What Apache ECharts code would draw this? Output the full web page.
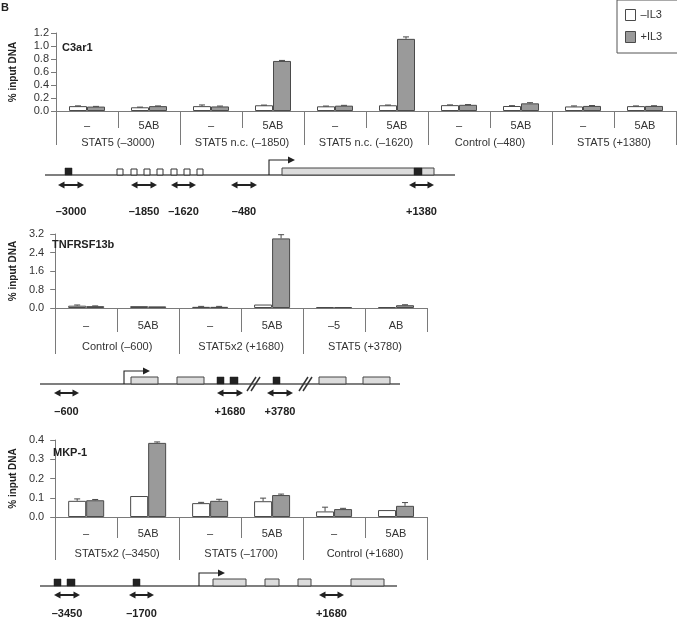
<!DOCTYPE html>
<html>
<head>
<meta charset="utf-8">
<script src="https://cdn.jsdelivr.net/npm/echarts@6/dist/echarts.min.js"></script>
<style>html,body{margin:0;padding:0;background:#fff}#c{width:677px;height:619px}</style>
</head>
<body>
<div id="c"></div>
<script>
// ---------- Panel 1: C3ar1 ----------
const c3Sub = ['–','5AB','–','5AB','–','5AB','–','5AB','–','5AB'];
const c3Groups = ['STAT5 (–3000)','STAT5 n.c. (–1850)','STAT5 n.c. (–1620)','Control (–480)','STAT5 (+1380)'];
const c3Minus = [0.075,0.057,0.075,0.088,0.072,0.088,0.09,0.077,0.07,0.075];
const c3MinusErr = [0.004,0.003,0.018,0.003,0.004,0.004,0.004,0.005,0.008,0.003];
const c3Plus = [0.068,0.075,0.07,0.77,0.082,1.11,0.095,0.118,0.078,0.078];
const c3PlusErr = [0.003,0.003,0.006,0.008,0.005,0.03,0.004,0.01,0.006,0.003];
const c3Ticks = [0,0.2,0.4,0.6,0.8,1.0,1.2];

// ---------- Panel 2: TNFRSF13b ----------
const tnSub = ['–','5AB','–','5AB','–5','AB'];
const tnGroups = ['Control (–600)','STAT5x2 (+1680)','STAT5 (+3780)'];
const tnMinus = [0.1,0.08,0.05,0.15,0.04,0.04];
const tnMinusErr = [0.03,0.0,0.02,0.0,0.0,0.0];
const tnPlus = [0.08,0.07,0.05,3.01,0.04,0.12];
const tnPlusErr = [0.01,0.0,0.02,0.16,0.0,0.02];
const tnTicks = [0,0.8,1.6,2.4,3.2];

// ---------- Panel 3: MKP-1 ----------
const mkSub = ['–','5AB','–','5AB','–','5AB'];
const mkGroups = ['STAT5x2 (–3450)','STAT5 (–1700)','Control (+1680)'];
const mkMinus = [0.084,0.109,0.072,0.082,0.029,0.036];
const mkMinusErr = [0.01,0.0,0.004,0.016,0.022,0.0];
const mkPlus = [0.087,0.385,0.084,0.114,0.041,0.058];
const mkPlusErr = [0.004,0.005,0.008,0.005,0.004,0.017];
const mkTicks = [0,0.1,0.2,0.3,0.4];

// ---------- Gene maps (schematic units) ----------
const c3Line = [0,410];
const c3Exons = [[237,389]];
const c3Sites = [[20,27],[369,377]];
const c3NcSites = [[72,78],[86,92],[99,105],[112,118],[126,132],[139,145],[152,158]];
const c3Tss = [224,250];
const c3Breaks = [];
const c3Amplicons = [[13,39],[86,112],[126,151],[186,212],[364,389]];
const c3AmpliconLabels = ['–3000','–1850','–1620','–480','+1380'];

const tnLine = [0,360];
const tnExons = [[91,118],[137,164],[279,306],[323,350]];
const tnSites = [[177,184],[190,198],[233,240]];
const tnNcSites = [];
const tnTss = [84,110];
const tnBreaks = [213,265];
const tnAmplicons = [[14,39],[177,203],[227,253]];
const tnAmpliconLabels = ['–600','+1680','+3780'];

const mkLine = [0,357];
const mkExons = [[173,206],[225,239],[258,271],[311,344]];
const mkSites = [[14,21],[27,35],[93,100]];
const mkNcSites = [];
const mkTss = [159,185];
const mkBreaks = [];
const mkAmplicons = [[14,40],[89,114],[279,304]];
const mkAmpliconLabels = ['–3450','–1700','+1680'];

const FONT = "'Liberation Sans', Arial, Helvetica, sans-serif";
const AX = '#7a7a7a';
const TXT = '#333';
const WHITE_STYLE = {color:'#ffffff', borderColor:'#4a4a4a', borderWidth:1};
const GRAY_STYLE = {color:'#9a9a9a', borderColor:'#4a4a4a', borderWidth:1};
const BARW = 18;

const chart = echarts.init(document.getElementById('c'), null, {renderer:'canvas'});

function errSeries(xi, yi, vals, errs, offset) {
  return {
    type:'custom', xAxisIndex:xi, yAxisIndex:yi, silent:true, z:5,
    data: vals.map((v,i)=>[i, v, errs[i]]),
    renderItem(params, api) {
      const i = api.value(0), v = api.value(1), e = api.value(2);
      if (!e) return null;
      const p0 = api.coord([i, v]);
      const p1 = api.coord([i, v + e]);
      const x = p0[0] + offset;
      return {type:'group', children:[
        {type:'line', shape:{x1:x, y1:p0[1], x2:x, y2:p1[1]}, style:{stroke:'#4a4a4a', lineWidth:1}},
        {type:'line', shape:{x1:x-3, y1:p1[1], x2:x+3, y2:p1[1]}, style:{stroke:'#4a4a4a', lineWidth:1}}
      ]};
    }
  };
}

function barPanel(idx, sub, minus, minusErr, plus, plusErr) {
  const xi = idx*2, yi = idx;
  return [
    {name:'–IL3', type:'bar', xAxisIndex:xi, yAxisIndex:yi, data:minus, barWidth:BARW, barGap:'0%', itemStyle:WHITE_STYLE, silent:true},
    {name:'+IL3', type:'bar', xAxisIndex:xi, yAxisIndex:yi, data:plus, barWidth:BARW, barGap:'0%', itemStyle:GRAY_STYLE, silent:true},
    errSeries(xi, yi, minus, minusErr, -BARW/2),
    errSeries(xi, yi, plus, plusErr, BARW/2)
  ];
}

function buildItems(line, exons, sites, nc, tss, breaks, amps, labels) {
  const items = [{k:'line', a:line[0], b:line[1]}];
  exons.forEach(e=>items.push({k:'exon', a:e[0], b:e[1]}));
  sites.forEach(e=>items.push({k:'site', a:e[0], b:e[1]}));
  nc.forEach(e=>items.push({k:'nc', a:e[0], b:e[1]}));
  items.push({k:'tss', a:tss[0], b:tss[1]});
  breaks.forEach(b=>items.push({k:'break', a:b, b:b}));
  amps.forEach((e,i)=>{
    items.push({k:'amp', a:e[0], b:e[1]});
    items.push({k:'label', a:(e[0]+e[1])/2, b:(e[0]+e[1])/2, t:labels[i]});
  });
  return items;
}

function mapSeries(idx, items, tssH, labelDy) {
  return {
    type:'custom', xAxisIndex:6+idx, yAxisIndex:3+idx, silent:true, clip:false,
    data: items.map(it=>[it.a, 0]),
    renderItem(params, api) {
      const it = items[params.dataIndex];
      const pa = api.coord([it.a, 0]);
      const pb = api.coord([it.b, 0]);
      const xa = pa[0], xb = pb[0], y = pa[1];
      const H = 7;
      switch (it.k) {
        case 'line':
          return {type:'line', shape:{x1:xa, y1:y, x2:xb, y2:y}, style:{stroke:'#555', lineWidth:1.4}};
        case 'exon':
          return {type:'rect', shape:{x:xa, y:y-H, width:xb-xa, height:H}, style:{fill:'#dcdcdc', stroke:'#444', lineWidth:1}};
        case 'site':
          return {type:'rect', shape:{x:xa, y:y-H, width:xb-xa, height:H}, style:{fill:'#222', stroke:'#222', lineWidth:0.5}, z2:3};
        case 'nc':
          return {type:'rect', shape:{x:xa, y:y-6, width:xb-xa, height:6}, style:{fill:'#fff', stroke:'#333', lineWidth:1}};
        case 'tss': {
          const ty = y - tssH;
          return {type:'group', children:[
            {type:'polyline', shape:{points:[[xa,y],[xa,ty],[xb-6,ty]]}, style:{stroke:'#222', lineWidth:1.1, fill:null}},
            {type:'polygon', shape:{points:[[xb,ty],[xb-7,ty-3.5],[xb-7,ty+3.5]]}, style:{fill:'#222'}}
          ]};
        }
        case 'break': {
          return {type:'group', children:[
            {type:'line', shape:{x1:xa-6, y1:y+7, x2:xa+3, y2:y-7}, style:{stroke:'#333', lineWidth:1.5}},
            {type:'line', shape:{x1:xa-2, y1:y+7, x2:xa+7, y2:y-7}, style:{stroke:'#333', lineWidth:1.5}}
          ]};
        }
        case 'amp': {
          const ay = y + (labelDy > 30 ? 10 : 9);
          return {type:'group', children:[
            {type:'line', shape:{x1:xa+5, y1:ay, x2:xb-5, y2:ay}, style:{stroke:'#222', lineWidth:2}},
            {type:'polygon', shape:{points:[[xa,ay],[xa+6.5,ay-3.5],[xa+6.5,ay+3.5]]}, style:{fill:'#222'}},
            {type:'polygon', shape:{points:[[xb,ay],[xb-6.5,ay-3.5],[xb-6.5,ay+3.5]]}, style:{fill:'#222'}}
          ]};
        }
        case 'label':
          return {type:'text', x:xa, y:y+labelDy, style:{text:it.t, fill:'#222', font:'bold 11px ' + FONT, align:'center', verticalAlign:'middle'}};
      }
      return null;
    }
  };
}

function yAx(grid, ticks, margin, gap) {
  return {
    type:'value', gridIndex:grid, min:ticks[0], max:ticks[ticks.length-1], interval:ticks[1]-ticks[0],
    axisLine:{show:true, lineStyle:{color:AX, width:1}},
    axisTick:{show:true, length:5, lineStyle:{color:AX}},
    splitLine:{show:false},
    axisLabel:{color:TXT, fontSize:11, fontFamily:FONT, margin:margin, formatter:v=>v.toFixed(1)},
    name:'% input DNA', nameLocation:'middle', nameRotate:90, nameGap:gap,
    nameTextStyle:{color:'#222', fontSize:10, fontWeight:'bold', fontFamily:FONT}
  };
}
function xSub(grid, data, tickLen, margin) {
  return {
    type:'category', gridIndex:grid, data:data, position:'bottom',
    axisLine:{show:true, lineStyle:{color:AX, width:1}},
    axisTick:{show:true, interval:0, length:tickLen, lineStyle:{color:AX}},
    axisLabel:{interval:0, color:TXT, fontSize:11, fontFamily:FONT, margin:margin},
    splitLine:{show:false}
  };
}
function xGroup(grid, data, tickLen, margin) {
  return {
    type:'category', gridIndex:grid, data:data, position:'bottom',
    axisLine:{show:false},
    axisTick:{show:true, interval:0, length:tickLen, lineStyle:{color:AX}},
    axisLabel:{interval:0, color:TXT, fontSize:11, fontFamily:FONT, margin:margin},
    splitLine:{show:false}
  };
}
function xMap(grid, line) {
  return {type:'value', gridIndex:grid, min:line[0], max:line[1], show:false};
}
function yMap(grid) {
  return {type:'value', gridIndex:grid, min:0, max:1, show:false};
}

const c3Items = buildItems(c3Line, c3Exons, c3Sites, c3NcSites, c3Tss, c3Breaks, c3Amplicons, c3AmpliconLabels);
const tnItems = buildItems(tnLine, tnExons, tnSites, tnNcSites, tnTss, tnBreaks, tnAmplicons, tnAmpliconLabels);
const mkItems = buildItems(mkLine, mkExons, mkSites, mkNcSites, mkTss, mkBreaks, mkAmplicons, mkAmpliconLabels);

const titleStyle = {fontSize:11, fontWeight:'bold', color:'#222', fontFamily:FONT};

chart.setOption({
  animation:false,
  backgroundColor:'#fff',
  textStyle:{fontFamily:FONT},
  title:[
    {text:'B', left:1, top:2, padding:0, textStyle:titleStyle},
    {text:'C3ar1', left:62, top:42, padding:0, textStyle:titleStyle},
    {text:'TNFRSF13b', left:52, top:239, padding:0, textStyle:titleStyle},
    {text:'MKP-1', left:53, top:447, padding:0, textStyle:titleStyle}
  ],
  legend:{
    orient:'vertical', left:617, top:0, padding:[9,40,10,8], itemGap:10,
    itemWidth:10, itemHeight:11, icon:'rect',
    borderColor:'#555', borderWidth:1, backgroundColor:'#fff',
    textStyle:{color:TXT, fontSize:11, fontFamily:FONT},
    selectedMode:false,
    data:[
      {name:'–IL3', itemStyle:{color:'#fff', borderColor:'#4a4a4a', borderWidth:1}},
      {name:'+IL3', itemStyle:{color:'#9a9a9a', borderColor:'#4a4a4a', borderWidth:1}}
    ]
  },
  grid:[
    {left:50, top:33, width:626, height:78},
    {left:45, top:234, width:382, height:74},
    {left:45, top:440, width:382, height:77},
    {left:45, top:155, width:410, height:20},
    {left:40, top:364, width:360, height:20},
    {left:40, top:566, width:357, height:20}
  ],
  xAxis:[
    xSub(0, c3Sub, 17, 9), xGroup(0, c3Groups, 34, 26),
    xSub(1, tnSub, 24, 12), xGroup(1, tnGroups, 46, 33),
    xSub(2, mkSub, 21, 11), xGroup(2, mkGroups, 43, 31),
    xMap(3, c3Line), xMap(4, tnLine), xMap(5, mkLine)
  ],
  yAxis:[
    yAx(0, c3Ticks, 7, 38), yAx(1, tnTicks, 11, 33), yAx(2, mkTicks, 11, 33),
    yMap(3), yMap(4), yMap(5)
  ],
  series:[
    ...barPanel(0, c3Sub, c3Minus, c3MinusErr, c3Plus, c3PlusErr),
    ...barPanel(1, tnSub, tnMinus, tnMinusErr, tnPlus, tnPlusErr),
    ...barPanel(2, mkSub, mkMinus, mkMinusErr, mkPlus, mkPlusErr),
    mapSeries(0, c3Items, 15, 37),
    mapSeries(1, tnItems, 13, 28),
    mapSeries(2, mkItems, 13, 28)
  ]
});
</script>
</body>
</html>
